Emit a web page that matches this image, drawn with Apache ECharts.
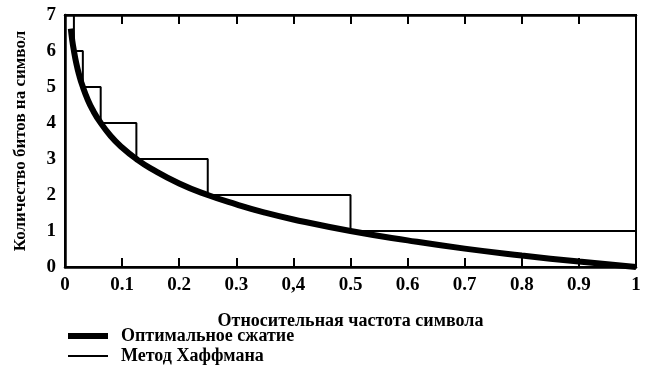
<!DOCTYPE html>
<html><head><meta charset="utf-8">
<script src="https://cdn.jsdelivr.net/npm/echarts@6/dist/echarts.min.js"></script>
<style>html,body{margin:0;padding:0;background:#fff}#c{width:648px;height:373px}</style>
</head><body><div id="c"></div>
<script>
var xTickLabels = ["0","0.1","0.2","0.3","0,4","0.5","0.6","0.7","0.8","0.9","1"];
var optimalX = [0.0102,0.0125,0.015,0.02,0.025,0.03,0.04,0.05,0.06,0.08,0.1,0.125,0.15,0.2,0.25,0.3,0.35,0.4,0.5,0.6,0.7,0.8,0.9,1.0];
var optimalY = [6.62,6.32,6.06,5.64,5.32,5.06,4.64,4.32,4.06,3.64,3.32,3.0,2.74,2.32,2.0,1.74,1.51,1.32,1.0,0.74,0.51,0.32,0.15,0.0];
var huffX = [0.0156,0.0156,0.03125,0.03125,0.0625,0.0625,0.125,0.125,0.25,0.25,0.5,0.5,1.0];
var huffY = [7,6,6,5,5,4,4,3,3,2,2,1,1];
var seriesNames = ["Оптимальное сжатие","Метод Хаффмана"];
var xName = "Относительная частота символа";
var yName = "Количество битов на символ";

var font = "'Liberation Serif', 'DejaVu Serif', serif";
function zip(a,b){return a.map(function(v,i){return [v,b[i]];});}
var chart = echarts.init(document.getElementById('c'));
chart.setOption({
  animation:false,
  backgroundColor:'#fff',
  grid:{left:65,right:12,top:15,bottom:106,show:true,borderColor:'#000',borderWidth:2},
  xAxis:[{
    type:'value',min:0,max:1,interval:0.1,position:'bottom',
    name:xName,nameLocation:'middle',nameGap:45,
    nameTextStyle:{fontFamily:font,fontSize:18,fontWeight:'bold',color:'#000'},
    axisLine:{lineStyle:{color:'#000',width:2.5}},
    axisTick:{inside:true,length:9,lineStyle:{color:'#000',width:2}},
    axisLabel:{fontFamily:font,fontSize:19,fontWeight:'bold',color:'#000',margin:9,
      formatter:function(v){return xTickLabels[Math.round(v*10)];}},
    splitLine:{show:false}
  },{
    type:'value',min:0,max:1,interval:0.1,position:'top',
    axisLine:{lineStyle:{color:'#000',width:2.5}},
    axisTick:{inside:true,length:9,lineStyle:{color:'#000',width:2}},
    axisLabel:{show:false},splitLine:{show:false}
  }],
  yAxis:[{
    type:'value',min:0,max:7,interval:1,
    name:yName,nameLocation:'middle',nameGap:36,
    nameTextStyle:{fontFamily:font,fontSize:17,fontWeight:'bold',color:'#000'},
    axisLine:{lineStyle:{color:'#000',width:2.5}},
    axisTick:{show:false},
    axisLabel:{fontFamily:font,fontSize:19,fontWeight:'bold',color:'#000',margin:9},
    splitLine:{show:false}
  }],
  legend:[{
    left:63,top:322,orient:'vertical',icon:'rect',itemWidth:40,itemHeight:6,
    data:[seriesNames[0]],
    textStyle:{fontFamily:font,fontSize:18,fontWeight:'bold',color:'#000',padding:[0,0,0,8]}
  },{
    left:63,top:342,orient:'vertical',icon:'rect',itemWidth:40,itemHeight:2,
    data:[seriesNames[1]],
    textStyle:{fontFamily:font,fontSize:18,fontWeight:'bold',color:'#000',padding:[0,0,0,8]}
  }],
  series:[{
    name:seriesNames[0],type:'line',smooth:true,symbol:'none',
    data:zip(optimalX,optimalY),
    lineStyle:{color:'#000',width:6},itemStyle:{color:'#000'},z:3
  },{
    name:seriesNames[1],type:'line',symbol:'none',
    data:zip(huffX,huffY),
    lineStyle:{color:'#000',width:2},itemStyle:{color:'#000'},z:2
  }]
});
</script></body></html>
